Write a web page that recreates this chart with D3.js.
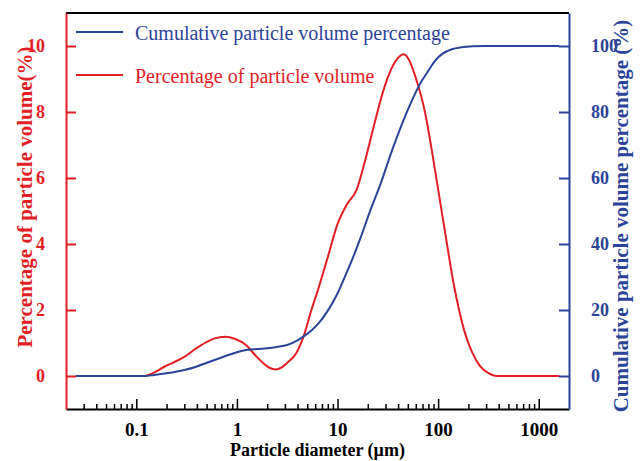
<!DOCTYPE html>
<html>
<head>
<meta charset="utf-8">
<script src="https://cdn.jsdelivr.net/npm/d3@7"></script>
<style>
  body { margin: 0; background: #fff; }
  svg { display: block; }
  text { font-family: "Liberation Serif", "Times New Roman", serif; }
</style>
</head>
<body>
<svg id="chart" width="643" height="461"></svg>
<script>
// ---- data ----
const xMajorTicks = [0.1, 1, 10, 100, 1000];
const xTickLabels = ["0.1", "1", "10", "100", "1000"];
const leftTicks = [0, 2, 4, 6, 8, 10];
const rightTicks = [0, 20, 40, 60, 80, 100];

// Percentage of particle volume (%), left axis
const pctX = [0.025, 0.1, 0.12, 0.15, 0.19, 0.23, 0.3, 0.4, 0.48, 0.6, 0.76, 0.95, 1.24, 1.5, 1.81, 2.1, 2.45, 2.8, 3.16, 3.9, 4.6, 5.5, 6.3, 8.0, 10, 12.4, 15.5, 18.7, 23.5, 29.6, 37, 45.5, 52, 59, 74, 87, 104.5, 122.5, 140.6, 161.5, 185, 217, 261, 328, 385, 1600];
const pctY = [0, 0, 0, 0.1, 0.28, 0.4, 0.58, 0.85, 1.0, 1.14, 1.19, 1.13, 0.93, 0.65, 0.4, 0.25, 0.2, 0.26, 0.4, 0.7, 1.2, 2.0, 2.55, 3.6, 4.6, 5.2, 5.65, 6.5, 7.7, 8.8, 9.5, 9.75, 9.55, 9.1, 8.0, 6.8, 5.3, 4.0, 2.9, 2.0, 1.3, 0.73, 0.3, 0.06, 0, 0];

// Cumulative particle volume percentage (%), right axis
const cumX = [0.025, 0.1, 0.12, 0.15, 0.2, 0.3, 0.4, 0.48, 0.76, 1.0, 1.24, 1.6, 2.0, 2.5, 3.16, 4.0, 4.6, 5.5, 6.5, 7.9, 10, 12, 14.3, 17, 20.8, 27, 33.6, 44.6, 55, 64.6, 80, 93, 110, 137, 170, 220, 300, 1600];
const cumY = [0, 0, 0, 0.3, 0.8, 1.8, 2.9, 3.8, 6.0, 7.2, 7.9, 8.2, 8.4, 8.8, 9.4, 10.8, 12, 13.8, 16, 19.5, 25, 30.5, 36, 42, 49.5, 58.5, 67, 77, 83.5, 88, 92.5, 95.5, 97.6, 99, 99.6, 99.9, 100, 100];

const seriesNames = ["Cumulative particle volume percentage", "Percentage of particle volume"];

// ---- setup ----
const RED = "#e41e26", BLUE = "#2b4399";
const svg = d3.select("#chart");
const L = 66, R = 569, T = 13, B = 409;

const x = d3.scaleLog().domain([0.02, 2000]).range([L, R]);
const yL = d3.scaleLinear().domain([-1, 11]).range([B, T]);
const yR = d3.scaleLinear().domain([-10, 110]).range([B, T]);

// curves
const redLine = d3.line().x((d) => x(d[0])).y((d) => yL(d[1])).curve(d3.curveMonotoneX);
const blueLine = d3.line().x((d) => x(d[0])).y((d) => yR(d[1])).curve(d3.curveMonotoneX);

svg.append("path").datum(d3.zip(pctX, pctY)).attr("d", redLine)
  .attr("fill", "none").attr("stroke", RED).attr("stroke-width", 2);
svg.append("path").datum(d3.zip(cumX, cumY)).attr("d", blueLine)
  .attr("fill", "none").attr("stroke", BLUE).attr("stroke-width", 2);

// top border
svg.append("line").attr("x1", L).attr("x2", R).attr("y1", T).attr("y2", T)
  .attr("stroke", "#000").attr("stroke-width", 2);

// bottom axis (inward ticks)
const minorTicks = [];
[0.01, 0.1, 1, 10, 100, 1000].forEach((dec) => {
  for (let m = 2; m <= 9; m++) {
    const v = dec * m;
    if (v > 0.02 && v < 2000) minorTicks.push(v);
  }
});
const gMinor = svg.append("g").attr("transform", `translate(0,${B})`)
  .call(d3.axisBottom(x).tickValues(minorTicks).tickSize(-5).tickFormat(""));
gMinor.select(".domain").remove();
gMinor.selectAll(".tick line").attr("stroke", "#000").attr("stroke-width", 1.5);

const gX = svg.append("g").attr("transform", `translate(0,${B})`)
  .call(d3.axisBottom(x).tickValues(xMajorTicks).tickSizeInner(-10).tickSizeOuter(0)
    .tickPadding(14).tickFormat((d, i) => xTickLabels[i]));
gX.select(".domain").attr("stroke", "#000").attr("stroke-width", 2);
gX.selectAll(".tick line").attr("stroke", "#000").attr("stroke-width", 1.5);
gX.selectAll(".tick text").attr("fill", "#000").attr("font-size", 19).attr("font-weight", "bold")
  .attr("font-family", "Liberation Serif, serif");

// left axis
const gL = svg.append("g").attr("transform", `translate(${L},0)`)
  .call(d3.axisLeft(yL).tickValues(leftTicks).tickSizeInner(-10).tickSizeOuter(0).tickPadding(21));
gL.select(".domain").attr("stroke", RED).attr("stroke-width", 2);
gL.selectAll(".tick line").attr("stroke", RED).attr("stroke-width", 2);
gL.selectAll(".tick text").attr("fill", RED).attr("font-size", 18).attr("font-weight", "bold")
  .attr("font-family", "Liberation Serif, serif");

// right axis
const gR = svg.append("g").attr("transform", `translate(${R},0)`)
  .call(d3.axisRight(yR).tickValues(rightTicks).tickSizeInner(-10).tickSizeOuter(0).tickPadding(22));
gR.select(".domain").attr("stroke", BLUE).attr("stroke-width", 2);
gR.selectAll(".tick line").attr("stroke", BLUE).attr("stroke-width", 2);
gR.selectAll(".tick text").attr("fill", BLUE).attr("font-size", 18).attr("font-weight", "bold")
  .attr("font-family", "Liberation Serif, serif");

// axis titles
svg.append("text").attr("x", (L + R) / 2).attr("y", 456).attr("text-anchor", "middle")
  .attr("font-size", 18).attr("font-weight", "bold").attr("fill", "#000")
  .text("Particle diameter (µm)");

svg.append("text").attr("transform", "translate(31.5,197) rotate(-90)").attr("text-anchor", "middle")
  .attr("font-size", 21).attr("font-weight", "bold").attr("fill", RED)
  .text("Percentage of particle volume(%)");

svg.append("text").attr("transform", "translate(628,216) rotate(-90)").attr("text-anchor", "middle")
  .attr("font-size", 21).attr("font-weight", "bold").attr("fill", BLUE)
  .text("Cumulative particle volume percentage (%)");

// legend
const legend = [
  { name: seriesNames[0], color: BLUE, ly: 32, ty: 40 },
  { name: seriesNames[1], color: RED, ly: 75, ty: 83 }
];
legend.forEach((d) => {
  svg.append("line").attr("x1", 76).attr("x2", 123).attr("y1", d.ly).attr("y2", d.ly)
    .attr("stroke", d.color).attr("stroke-width", 2);
  svg.append("text").attr("x", 135).attr("y", d.ty).attr("font-size", 20)
    .attr("fill", d.color).text(d.name);
});
</script>
</body>
</html>
